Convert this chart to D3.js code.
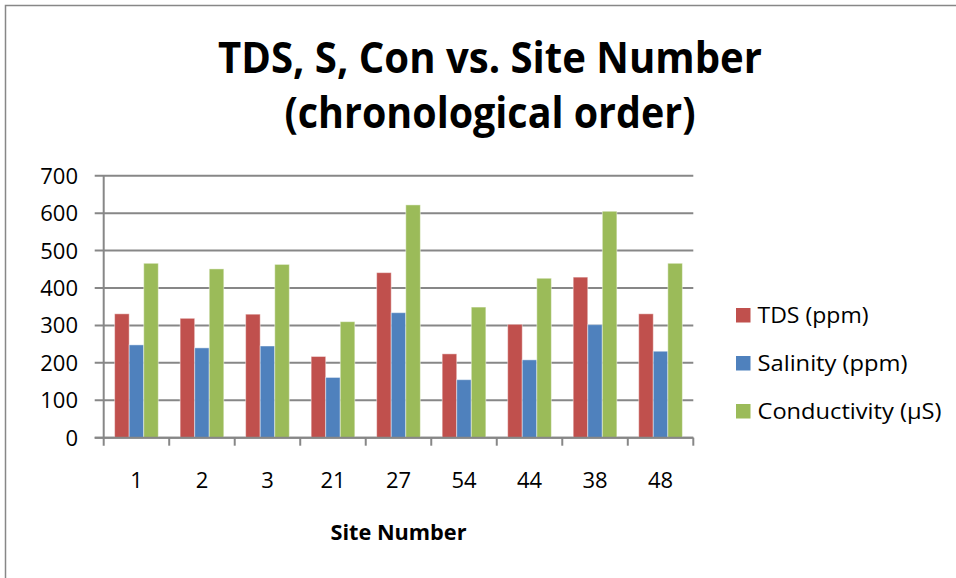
<!DOCTYPE html>
<html>
<head>
<meta charset="utf-8">
<script src="https://cdn.jsdelivr.net/npm/d3@7/dist/d3.min.js"></script>
<style>
  body { margin: 0; background: #fff; }
  text { font-family: "Open Sans", "Noto Sans", sans-serif; fill: #000; }
</style>
</head>
<body>
<div id="chart"></div>
<script>

// data
const sites = ["1", "2", "3", "21", "27", "54", "44", "38", "48"];
const seriesNames = ["TDS (ppm)", "Salinity (ppm)", "Conductivity (\u00b5S)"];
const tds = [331, 319, 330, 217, 441, 224, 303, 429, 331];
const salinity = [248, 240, 245, 161, 334, 155, 208, 302, 231];
const conductivity = [466, 451, 463, 310, 622, 349, 426, 605, 466];
const yTicks = [0, 100, 200, 300, 400, 500, 600, 700];
const colors = ["#C0504D", "#4F81BD", "#9BBB59"];

const seriesValues = [tds, salinity, conductivity];

var width = 956, height = 578;
var plot = { left: 103.7, right: 693.3, top: 175.7, bottom: 437.7 };

var svg = d3.select('#chart')
  .append('svg')
  .attr('width', width)
  .attr('height', height);

// outer chart frame (runs off the right and bottom)
svg.append('rect')
  .attr('x', 5.5).attr('y', 5.5)
  .attr('width', 960).attr('height', 600)
  .attr('fill', 'none')
  .attr('stroke', '#878787')
  .attr('stroke-width', 1.5);

// scales
const x0 = d3.scaleBand()
  .domain(sites)
  .range([plot.left, plot.right])
  .padding(0);

const x1 = d3.scaleBand()
  .domain(seriesNames)
  .range([0, x0.bandwidth()])
  .paddingInner(0)
  .paddingOuter(0.75);

const y = d3.scaleLinear()
  .domain([0, 700])
  .range([plot.bottom, plot.top]);

// gridlines
svg.append('g')
  .selectAll('line')
  .data(yTicks)
  .enter()
  .append('line')
  .attr('x1', plot.left - 9)
  .attr('x2', plot.right)
  .attr('y1', d => y(d))
  .attr('y2', d => y(d))
  .attr('stroke', '#878787')
  .attr('stroke-width', 2);

// y tick labels
svg.append('g')
  .selectAll('text')
  .data(yTicks)
  .enter()
  .append('text')
  .attr('x', 78)
  .attr('y', d => y(d) + 8)
  .attr('text-anchor', 'end')
  .style('font-size', '22px')
  .text(d => d);

// bars
const groups = svg.append('g')
  .selectAll('g')
  .data(sites)
  .enter()
  .append('g')
  .attr('transform', d => `translate(${x0(d)},0)`);

groups.selectAll('rect')
  .data((d, i) => seriesNames.map((s, j) => ({ series: s, value: seriesValues[j][i], color: colors[j] })))
  .enter()
  .append('rect')
  .attr('x', d => x1(d.series))
  .attr('y', d => y(d.value))
  .attr('width', x1.bandwidth())
  .attr('height', d => y(0) - y(d.value))
  .attr('fill', d => d.color)
  .attr('stroke', 'rgba(255,255,255,0.45)')
  .attr('stroke-width', 1);

// axes lines
svg.append('line')
  .attr('x1', plot.left).attr('x2', plot.left)
  .attr('y1', plot.top).attr('y2', plot.bottom + 8)
  .attr('stroke', '#878787').attr('stroke-width', 2);

svg.append('line')
  .attr('x1', plot.left - 9).attr('x2', plot.right)
  .attr('y1', plot.bottom).attr('y2', plot.bottom)
  .attr('stroke', '#878787').attr('stroke-width', 2);

// category tick marks
svg.append('g')
  .selectAll('line')
  .data(sites)
  .enter()
  .append('line')
  .attr('x1', d => x0(d) + x0.bandwidth())
  .attr('x2', d => x0(d) + x0.bandwidth())
  .attr('y1', plot.bottom)
  .attr('y2', plot.bottom + 8)
  .attr('stroke', '#878787')
  .attr('stroke-width', 2);

// category labels
svg.append('g')
  .selectAll('text')
  .data(sites)
  .enter()
  .append('text')
  .attr('x', d => x0(d) + x0.bandwidth() / 2)
  .attr('y', 488)
  .attr('text-anchor', 'middle')
  .style('font-size', '22px')
  .text(d => d);

// axis title
svg.append('text')
  .attr('x', (plot.left + plot.right) / 2)
  .attr('y', 540)
  .attr('text-anchor', 'middle')
  .attr('textLength', 136)
  .attr('lengthAdjust', 'spacingAndGlyphs')
  .style('font-size', '22px')
  .style('font-weight', 'bold')
  .text('Site Number');

// chart title
svg.append('text')
  .attr('x', 490)
  .attr('y', 73)
  .attr('text-anchor', 'middle')
  .attr('textLength', 544)
  .attr('lengthAdjust', 'spacingAndGlyphs')
  .style('font-size', '43px')
  .style('font-weight', 'bold')
  .text('TDS, S, Con vs. Site Number');

svg.append('text')
  .attr('x', 490)
  .attr('y', 128)
  .attr('text-anchor', 'middle')
  .attr('textLength', 411)
  .attr('lengthAdjust', 'spacingAndGlyphs')
  .style('font-size', '43px')
  .style('font-weight', 'bold')
  .text('(chronological order)');

// legend
const legendWidths = [111, 150, 184];
const legend = svg.append('g')
  .selectAll('g')
  .data(seriesNames)
  .enter()
  .append('g')
  .attr('transform', (d, i) => `translate(736, ${308 + i * 48})`);

legend.append('rect')
  .attr('width', 14.5)
  .attr('height', 14.5)
  .attr('fill', (d, i) => colors[i]);

legend.append('text')
  .attr('x', 21.5)
  .attr('y', 15)
  .attr('textLength', (d, i) => legendWidths[i])
  .attr('lengthAdjust', 'spacingAndGlyphs')
  .style('font-size', '22px')
  .text(d => d);

</script>
</body>
</html>
